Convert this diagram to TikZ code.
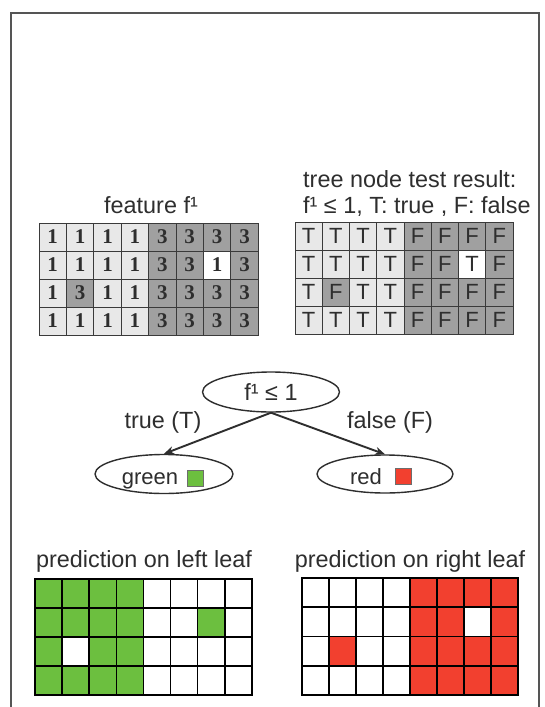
\documentclass[tikz,border=0pt]{standalone}
\usepackage{fontspec}
\setmainfont{Liberation Sans}
\newfontfamily\digitfont{Liberation Serif}
\usetikzlibrary{shapes.geometric,arrows.meta}
\definecolor{cL}{HTML}{E8E8E8}
\definecolor{cD}{HTML}{A0A0A0}
\definecolor{cW}{HTML}{FFFFFF}
\definecolor{pg}{HTML}{6CBF3F}
\definecolor{pr}{HTML}{F2402F}
\definecolor{pw}{HTML}{FFFFFF}
\definecolor{ink}{HTML}{2E2E2E}
\definecolor{gridline}{HTML}{3A3A3A}
\definecolor{framec}{HTML}{555555}
\begin{document}
\begin{tikzpicture}[x=1pt,y=-1pt,
  lbl/.style={inner sep=0pt, font=\fontsize{23.4}{26}\selectfont, text=ink},
  fcell/.style={draw=gridline, line width=1pt, minimum width=27.4pt, minimum height=28pt, inner sep=0pt,
    font=\digitfont\bfseries\fontsize{21}{21}\selectfont, text=ink},
  tcell/.style={draw=gridline, line width=1pt, minimum width=27.25pt, minimum height=28pt, inner sep=0pt,
    font=\fontsize{22}{22}\selectfont, text=ink},
  pcell/.style={draw=black, line width=1.6pt, minimum width=27.1pt, minimum height=29pt, inner sep=0pt},
  tnode/.style={ellipse, draw=ink, line width=1.4pt, inner sep=0pt},
  edgearrow/.style={draw=ink, line width=1.9pt, -{Stealth[length=10pt,width=8pt]}},
  sqbox/.style={draw=ink!70, line width=0.8pt, minimum size=16pt, inner sep=0pt}]

\useasboundingbox (0,0) rectangle (545,707);
\fill[white] (0,0) rectangle (545,707);

% frame
\draw[framec, line width=1.8pt] (11,720) -- (11,13) -- (539,13) -- (539,720);

% ---------- feature grid ----------
\node[lbl, anchor=base] (featlbl) at (151,213) {feature f¹};
\foreach \r/\row in {1/{1/L,1/L,1/L,1/L,3/D,3/D,3/D,3/D},
                     2/{1/L,1/L,1/L,1/L,3/D,3/D,1/W,3/D},
                     3/{1/L,3/D,1/L,1/L,3/D,3/D,3/D,3/D},
                     4/{1/L,1/L,1/L,1/L,3/D,3/D,3/D,3/D}}{
  \foreach \v/\f [count=\c] in \row {
    \node[fcell, fill=c\f] (f-\r-\c) at ({39+27.4*(\c-0.5)},{223+28*(\r-0.5)}) {\v};
  }
}

% ---------- test grid ----------
\node[lbl, anchor=base west] (testlblA) at (303,187) {tree node test result:};
\node[lbl, anchor=base west] (testlblB) at (303,213) {f¹ ≤ 1, T: true , F: false};
\foreach \r/\row in {1/{T/L,T/L,T/L,T/L,F/D,F/D,F/D,F/D},
                     2/{T/L,T/L,T/L,T/L,F/D,F/D,T/W,F/D},
                     3/{T/L,F/D,T/L,T/L,F/D,F/D,F/D,F/D},
                     4/{T/L,T/L,T/L,T/L,F/D,F/D,F/D,F/D}}{
  \foreach \v/\f [count=\c] in \row {
    \node[tcell, fill=c\f] (t-\r-\c) at ({295+27.25*(\c-0.5)},{222+28*(\r-0.5)}) {\v};
  }
}

% ---------- tree ----------
\node[tnode, minimum width=137pt, minimum height=40pt, font=\fontsize{23.4}{26}\selectfont, text=ink]
  (root) at (271,392) {f¹ ≤ 1};
\node[tnode, minimum width=138pt, minimum height=39pt] (lleaf) at (164,474) {};
\node[tnode, minimum width=136pt, minimum height=38pt] (rleaf) at (385,474) {};
\node[lbl, anchor=base, font=\fontsize{22}{24}\selectfont] (gtxt) at (150,484) {green};
\node[sqbox, fill=pg] (gsq) at (195,478) {};
\node[lbl, anchor=base, font=\fontsize{22}{24}\selectfont] (rtxt) at (366,484) {red};
\node[sqbox, fill=pr] (rsq) at (403,476) {};
\draw[edgearrow] (root.south) -- (lleaf.north);
\draw[edgearrow] (root.south) -- (rleaf.north);
\node[lbl, anchor=base] (tlbl) at (163,428) {true (T)};
\node[lbl, anchor=base] (flbl) at (390,428) {false (F)};

% ---------- prediction grids ----------
\node[lbl, anchor=base] (plblL) at (144,567) {prediction on left leaf};
\node[lbl, anchor=base] (plblR) at (410,567) {prediction on right leaf};
\foreach \r/\row in {1/{g,g,g,g,w,w,w,w},
                     2/{g,g,g,g,w,w,g,w},
                     3/{g,w,g,g,w,w,w,w},
                     4/{g,g,g,g,w,w,w,w}}{
  \foreach \f [count=\c] in \row {
    \node[pcell, fill=p\f] (pl-\r-\c) at ({35+27.1*(\c-0.5)},{579+29*(\r-0.5)}) {};
  }
}
\foreach \r/\row in {1/{w,w,w,w,r,r,r,r},
                     2/{w,w,w,w,r,r,w,r},
                     3/{w,r,w,w,r,r,r,r},
                     4/{w,w,w,w,r,r,r,r}}{
  \foreach \f [count=\c] in \row {
    \node[pcell, fill=p\f, minimum width=27pt, minimum height=29.25pt] (pr-\r-\c) at ({302+27*(\c-0.5)},{578+29.25*(\r-0.5)}) {};
  }
}
\end{tikzpicture}
\end{document}
